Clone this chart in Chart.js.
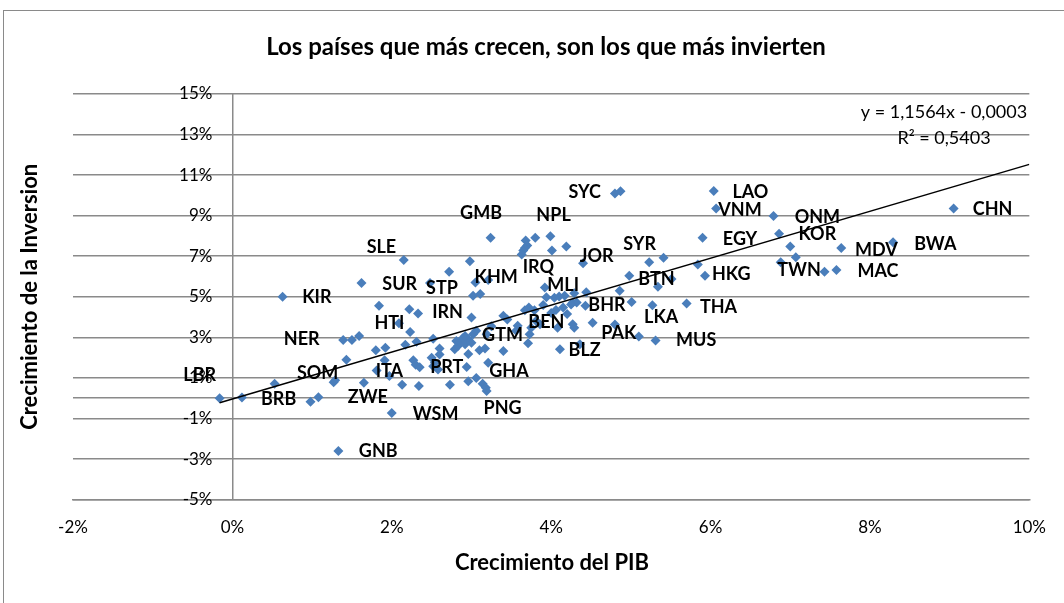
<!DOCTYPE html>
<html lang="es">
<head>
<meta charset="utf-8">
<title>Los países que más crecen, son los que más invierten</title>
<script src="https://cdn.jsdelivr.net/npm/chart.js@4/dist/chart.umd.min.js"></script>
<style>
    html, body { margin: 0; padding: 0; background: #fff; }
    #graf { display: block; }
</style>
</head>
<body>
<canvas id="graf" width="1064" height="603"></canvas>
<script>
// Crecimiento del PIB (%) y crecimiento de la inversion (%) por pais
const pibX = [
    -0.16, 0.12, 0.53, 0.63, 0.98, 1.08, 1.27, 1.29, 1.33, 1.39, 1.50, 1.43, 1.59, 1.62, 2.15,
    1.84, 2.22, 2.33, 2.72, 2.48, 2.09, 2.23, 2.17, 2.31, 2.52, 2.60, 2.60, 1.80, 1.92, 1.65,
    1.81, 1.91, 1.97, 2.00, 2.13, 2.34, 2.27, 2.30, 2.35, 2.52, 2.58, 2.50, 2.54, 2.73, 2.79,
    2.83, 2.86, 2.89, 2.92, 2.96, 3.00, 3.02, 3.06, 2.81, 2.92, 2.94, 2.96, 2.96, 3.06, 3.14,
    3.18, 3.19, 3.21, 3.10, 3.17, 3.40, 3.73, 3.71, 4.11, 4.36, 5.10, 5.31, 3.00, 3.40, 3.45,
    3.58, 3.67, 3.72, 3.79, 3.75, 3.81, 3.86, 4.15, 4.20, 4.00, 4.06, 4.08, 4.27, 4.29, 4.43,
    4.52, 4.80, 5.01, 5.27, 5.70, 3.56, 3.19, 3.25, 4.80, 4.87, 3.24, 3.68, 3.80, 3.99, 3.70,
    3.67, 3.65, 3.63, 4.01, 4.19, 2.98, 3.05, 3.21, 3.02, 3.11, 4.40, 5.23, 5.41, 4.98, 5.34,
    5.51, 4.86, 3.92, 3.94, 4.04, 4.10, 4.29, 4.44, 4.27, 4.32, 6.04, 6.07, 6.79, 6.86, 7.00,
    7.07, 6.88, 7.43, 7.58, 7.64, 8.29, 9.05, 5.90, 5.84, 5.93, 4.17, 3.90, 4.25
];
const invY = [
    0.00, 0.03, 0.71, 5.00, -0.18, 0.05, 0.79, 0.89, -2.60, 2.87, 2.87, 1.89, 3.07, 5.68, 6.82,
    4.56, 4.39, 4.18, 6.23, 5.68, 3.70, 3.26, 2.63, 2.78, 2.93, 2.45, 2.16, 2.36, 2.49, 0.76,
    1.37, 1.87, 1.09, -0.73, 0.66, 0.60, 1.87, 1.65, 1.52, 1.58, 1.42, 2.00, 1.75, 0.66, 2.41,
    2.58, 2.76, 2.95, 2.66, 2.91, 2.74, 3.15, 3.32, 2.82, 3.07, 1.54, 2.18, 0.84, 1.00, 0.71,
    0.51, 0.35, 1.75, 2.37, 2.45, 2.33, 3.15, 2.71, 2.41, 2.66, 3.04, 2.85, 3.98, 4.06, 3.88,
    3.57, 4.34, 4.47, 4.34, 3.48, 3.81, 3.65, 4.47, 4.15, 4.20, 4.35, 3.48, 3.65, 3.48, 4.56,
    3.72, 3.64, 4.74, 4.58, 4.67, 3.32, 3.15, 3.55, 10.09, 10.20, 7.91, 7.78, 7.91, 7.99, 7.53,
    7.41, 7.28, 7.08, 7.28, 7.48, 6.75, 5.71, 5.83, 5.05, 5.14, 6.65, 6.70, 6.92, 6.04, 5.50,
    5.88, 5.30, 5.46, 4.98, 4.95, 5.02, 5.18, 5.22, 4.72, 4.72, 10.22, 9.35, 8.98, 8.11, 7.48,
    6.95, 6.70, 6.24, 6.32, 7.41, 7.69, 9.35, 7.91, 6.59, 6.04, 5.05, 4.60, 4.62
];

// Etiquetas de pais (codigo y posicion del texto en unidades del grafico)
const paisCodigo = ["LBR", "BRB", "SOM", "ZWE", "ITA", "WSM", "GNB", "PRT", "GHA", "PNG",
    "GTM", "BEN", "BLZ", "BHR", "PAK", "LKA", "MUS", "THA", "HKG", "BTN",
    "SYR", "JOR", "EGY", "LAO", "VNM", "ONM", "KOR", "MDV", "BWA", "CHN",
    "TWN", "MAC", "SYC", "GMB", "NPL", "IRQ", "KHM", "MLI", "STP", "SUR",
    "SLE", "KIR", "HTI", "IRN", "NER"];
const paisX = [-0.41, 0.58, 1.07, 1.70, 1.97, 2.55, 1.83, 2.69, 3.47, 3.39,
    3.39, 3.94, 4.42, 4.70, 4.85, 5.38, 5.82, 6.10, 6.26, 5.32,
    5.11, 4.57, 6.37, 6.50, 6.37, 7.34, 7.34, 8.08, 8.82, 9.54,
    7.11, 8.10, 4.42, 3.12, 4.03, 3.84, 3.31, 4.15, 2.63, 2.10,
    1.87, 1.06, 1.97, 2.70, 0.87];
const paisY = [1.14, -0.03, 1.25, 0.05, 1.34, -0.79, -2.62, 1.54, 1.34, -0.48,
    3.12, 3.73, 2.36, 4.61, 3.20, 3.98, 2.86, 4.47, 6.13, 5.88,
    7.61, 6.98, 7.86, 10.17, 9.26, 8.93, 8.11, 7.32, 7.58, 9.31,
    6.29, 6.24, 10.17, 9.13, 9.01, 6.45, 5.99, 5.55, 5.43, 5.63,
    7.44, 4.97, 3.68, 4.22, 2.91];

// Linea de tendencia (y = 1,1564x - 0,0003)
const tendX = [-0.16, 10];
const tendY = [-0.22, 11.53];

const xTicks = [-2, 0, 2, 4, 6, 8, 10];
const yTicks = [-5, -3, -1, 0, 1, 3, 5, 7, 9, 11, 13, 15];

const ecuacion = "y = 1,1564x - 0,0003";
const r2 = "R² = 0,5403";

const gris = "#8a8a8a";
const fuente = "Lato, 'Open Sans', sans-serif";

// === Textos, marco y etiquetas de pais ===
const textosPlugin = {
    id: "textos",
    beforeDraw(chart) {
        const ctx = chart.ctx;
        ctx.save();
        ctx.fillStyle = "#fff";
        ctx.fillRect(0, 0, chart.width, chart.height);
        ctx.strokeStyle = gris;
        ctx.lineWidth = 1;
        ctx.strokeRect(3.5, 10.5, chart.width + 20, chart.height + 20);
        ctx.restore();
    },
    afterDatasetsDraw(chart) {
        const ctx = chart.ctx;
        const sx = chart.scales.x, sy = chart.scales.y;
        const area = chart.chartArea;
        ctx.save();
        ctx.fillStyle = "#000";
        ctx.textAlign = "center";
        ctx.textBaseline = "middle";

        ctx.font = "bold 18px " + fuente;
        paisCodigo.forEach((c, i) => {
            ctx.fillText(c, sx.getPixelForValue(paisX[i]), sy.getPixelForValue(paisY[i]));
        });

        ctx.font = "18px " + fuente;
        ctx.fillText(ecuacion, 944, 112);
        ctx.fillText(r2, 944, 138);

        ctx.font = "bold 24px " + fuente;
        ctx.fillText("Los países que más crecen, son los que más invierten", 546, 47);

        ctx.font = "bold 22px " + fuente;
        ctx.fillText("Crecimiento del PIB", 552, 563);

        ctx.translate(30, (area.top + area.bottom) / 2);
        ctx.rotate(-Math.PI / 2);
        ctx.fillText("Crecimiento de la Inversion", 0, 0);
        ctx.restore();
    }
};

const puntos = pibX.map((x, i) => ({ x: x, y: invY[i] }));
const tendencia = tendX.map((x, i) => ({ x: x, y: tendY[i] }));

new Chart(document.getElementById("graf"), {
    type: "scatter",
    data: {
        datasets: [
            {
                type: "line",
                label: "Tendencia",
                data: tendencia,
                borderColor: "#000",
                borderWidth: 1.5,
                pointRadius: 0,
                fill: false
            },
            {
                label: "Paises",
                data: puntos,
                pointStyle: "rectRot",
                pointRadius: 5,
                pointHoverRadius: 5,
                backgroundColor: "#4a7ebb",
                borderColor: "#4a7ebb",
                borderWidth: 0
            }
        ]
    },
    options: {
        responsive: false,
        devicePixelRatio: 1,
        animation: false,
        layout: { padding: { left: 73, right: 34, top: 94, bottom: 47 } },
        plugins: {
            legend: { display: false },
            title: { display: false },
            tooltip: { enabled: false }
        },
        scales: {
            x: {
                type: "linear",
                position: "bottom",
                min: -2,
                max: 10,
                afterBuildTicks: s => { s.ticks = xTicks.map(v => ({ value: v })); },
                grid: {
                    drawTicks: false,
                    lineWidth: 1.5,
                    color: c => (c.tick && c.tick.value === 0) ? gris : "rgba(0,0,0,0)"
                },
                border: { display: true, color: gris, width: 1.5 },
                ticks: {
                    padding: 18,
                    color: "#000",
                    font: { family: fuente, size: 17 },
                    callback: v => v + "%"
                }
            },
            y: {
                type: "linear",
                position: { x: -0.25 },
                min: -5,
                max: 15,
                afterBuildTicks: s => { s.ticks = yTicks.map(v => ({ value: v })); },
                grid: { drawTicks: false, color: gris, lineWidth: 1.5 },
                border: { display: false },
                ticks: {
                    color: "#000",
                    font: { family: fuente, size: 17 },
                    callback: v => v === 0 ? "" : v + "%"
                }
            }
        }
    },
    plugins: [textosPlugin]
});
</script>
</body>
</html>
